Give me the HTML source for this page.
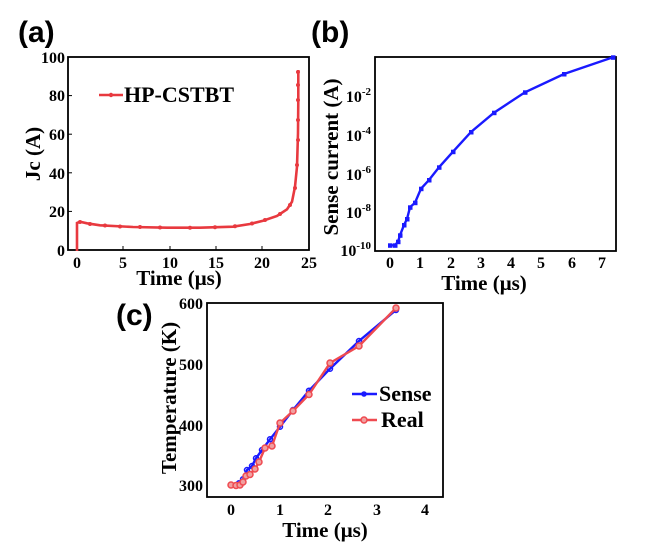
<!DOCTYPE html>
<html><head><meta charset="utf-8"><style>body{margin:0;background:#fff}svg{display:block}</style></head><body>
<svg width="668" height="544" viewBox="0 0 668 544" xmlns="http://www.w3.org/2000/svg" font-family="Liberation Serif, serif" font-weight="bold">
<!-- labels -->
<text x="18" y="42" font-family="Liberation Sans, sans-serif" font-size="30">(a)</text>
<text x="311" y="42" font-family="Liberation Sans, sans-serif" font-size="30">(b)</text>
<text x="116" y="325" font-family="Liberation Sans, sans-serif" font-size="30">(c)</text>

<!-- Panel a -->
<rect x="68" y="57" width="241" height="193" fill="none" stroke="#000" stroke-width="1.8"/>
<g font-size="16" text-anchor="end">
<text x="65" y="63">100</text><text x="65" y="101">80</text><text x="65" y="140">60</text><text x="65" y="179">40</text><text x="65" y="217">20</text><text x="65" y="256">0</text>
</g>
<g stroke="#000" stroke-width="1">
<line x1="68" y1="95.6" x2="72" y2="95.6"/><line x1="68" y1="134.2" x2="72" y2="134.2"/><line x1="68" y1="172.8" x2="72" y2="172.8"/><line x1="68" y1="211.4" x2="72" y2="211.4"/>
<line x1="123" y1="250" x2="123" y2="246"/><line x1="170" y1="250" x2="170" y2="246"/><line x1="216" y1="250" x2="216" y2="246"/><line x1="262" y1="250" x2="262" y2="246"/>
</g>
<g font-size="16" text-anchor="middle">
<text x="77" y="268">0</text><text x="123" y="268">5</text><text x="170" y="268">10</text><text x="216" y="268">15</text><text x="262" y="268">20</text><text x="309" y="268">25</text>
</g>
<text x="179" y="285" font-size="21" text-anchor="middle">Time (μs)</text>
<text transform="translate(40,154) rotate(-90)" font-size="21" text-anchor="middle">Jc (A)</text>
<polyline fill="none" stroke="#e8393f" stroke-width="2.6" points="77,251 77,223 80,221.7 87,223.3 100,225.3 133,227 167,227.7 200,227.7 233,226.7 250,224 263,220.7 277,216 287,209.3 292,201.7 295,186.7 297,166.7 298,133.3 298.3,100 298.3,70"/>
<g fill="#e8393f">
<circle cx="80" cy="222" r="2"/><circle cx="90" cy="224" r="2"/><circle cx="105" cy="225.5" r="2"/><circle cx="120" cy="226.5" r="2"/><circle cx="140" cy="227" r="2"/><circle cx="160" cy="227.5" r="2"/><circle cx="190" cy="227.7" r="2"/><circle cx="215" cy="227.3" r="2"/><circle cx="235" cy="226.3" r="2"/><circle cx="252" cy="223.5" r="2"/><circle cx="265" cy="220" r="2"/><circle cx="280" cy="214" r="2"/><circle cx="290" cy="205" r="2"/><circle cx="295" cy="188" r="2"/><circle cx="297" cy="165" r="2"/><circle cx="298" cy="140" r="2"/><circle cx="298" cy="120" r="2"/><circle cx="298" cy="100" r="2"/><circle cx="298" cy="85" r="2"/><circle cx="298" cy="72" r="2"/>
</g>
<line x1="99" y1="95" x2="123" y2="95" stroke="#e8393f" stroke-width="2.6"/><circle cx="111" cy="95" r="2.2" fill="#e8393f"/>
<text x="124" y="102" font-size="22">HP-CSTBT</text>

<!-- Panel b -->
<rect x="375" y="57" width="241" height="194" fill="none" stroke="#000" stroke-width="1.8"/>
<g font-size="16" text-anchor="end">
<text x="371" y="102">10<tspan font-size="11" dy="-7">-2</tspan></text>
<text x="371" y="141">10<tspan font-size="11" dy="-7">-4</tspan></text>
<text x="371" y="180">10<tspan font-size="11" dy="-7">-6</tspan></text>
<text x="371" y="218">10<tspan font-size="11" dy="-7">-8</tspan></text>
<text x="371" y="256">10<tspan font-size="11" dy="-7">-10</tspan></text>
</g>
<g font-size="16" text-anchor="middle">
<text x="390" y="268">0</text><text x="420" y="268">1</text><text x="451" y="268">2</text><text x="481" y="268">3</text><text x="511" y="268">4</text><text x="541" y="268">5</text><text x="572" y="268">6</text><text x="602" y="268">7</text>
</g>
<text x="484" y="290" font-size="21" text-anchor="middle">Time (μs)</text>
<text transform="translate(338,157) rotate(-90)" font-size="21" text-anchor="middle">Sense current (A)</text>
<polyline fill="none" stroke="#1a1aff" stroke-width="2.4" points="390,245.3 395,245.3 398,241.7 400,235.3 404,225 407,219 410,207.3 415,202.7 421,188.7 429,180 439,167.3 453,151.7 471,132 494,112.7 525,92.3 564,74 613,57.3"/>
<g fill="#1a1aff">
<rect x="388" y="243.3" width="4.5" height="4.5"/><rect x="393" y="243.3" width="4.5" height="4.5"/><rect x="396" y="239.7" width="4.5" height="4.5"/><rect x="398" y="233.3" width="4.5" height="4.5"/><rect x="402" y="223" width="4.5" height="4.5"/><rect x="405" y="217" width="4.5" height="4.5"/><rect x="408" y="205.3" width="4.5" height="4.5"/><rect x="413" y="200.7" width="4.5" height="4.5"/><rect x="419" y="186.7" width="4.5" height="4.5"/><rect x="427" y="178" width="4.5" height="4.5"/><rect x="437" y="165.3" width="4.5" height="4.5"/><rect x="451" y="149.7" width="4.5" height="4.5"/><rect x="469" y="130" width="4.5" height="4.5"/><rect x="492" y="110.7" width="4.5" height="4.5"/><rect x="523" y="90.3" width="4.5" height="4.5"/><rect x="562" y="72" width="4.5" height="4.5"/><rect x="611" y="55.3" width="4.5" height="4.5"/>
</g>

<!-- Panel c -->
<rect x="207" y="303" width="236" height="194" fill="none" stroke="#000" stroke-width="1.8"/>
<g font-size="16" text-anchor="end">
<text x="203" y="309">600</text><text x="203" y="370">500</text><text x="203" y="431">400</text><text x="203" y="491">300</text>
</g>
<g font-size="16" text-anchor="middle">
<text x="231" y="515">0</text><text x="280" y="515">1</text><text x="328" y="515">2</text><text x="377" y="515">3</text><text x="425" y="515">4</text>
</g>
<text x="325" y="537" font-size="21" text-anchor="middle">Time (μs)</text>
<text transform="translate(176,398) rotate(-90)" font-size="21" text-anchor="middle">Temperature (K)</text>
<polyline fill="none" stroke="#1a1aff" stroke-width="2.4" points="231,485 235,485 239,483.3 243,479.3 247,470 252,466 256,458.3 262,450 270,439.3 280,426.7 293,410 309,390.7 330,368.7 359,341 396,310"/>
<g fill="none" stroke="#1a1aff" stroke-width="1.5">
<circle cx="231" cy="485" r="2.5"/><circle cx="239" cy="483.3" r="2.5"/><circle cx="243" cy="479.3" r="2.5"/><circle cx="247" cy="470" r="2.5"/><circle cx="252" cy="466" r="2.5"/><circle cx="256" cy="458.3" r="2.5"/><circle cx="262" cy="450" r="2.5"/><circle cx="270" cy="439.3" r="2.5"/><circle cx="280" cy="426.7" r="2.5"/><circle cx="293" cy="410" r="2.5"/><circle cx="309" cy="390.7" r="2.5"/><circle cx="330" cy="368.7" r="2.5"/><circle cx="359" cy="341" r="2.5"/><circle cx="396" cy="310" r="2.5"/>
</g>
<polyline fill="none" stroke="#ef4a50" stroke-width="2.4" points="231,485 236,485.5 240,485 243,482 246,476 250,474.5 255,469 259,462 265,448 272,446 280,423 293,411 309,394.5 330,363 359,346 396,308"/>
<g fill="#f0a0a0" stroke="#ef4a50" stroke-width="1.5">
<circle cx="231" cy="485" r="3"/><circle cx="236" cy="485.5" r="3"/><circle cx="240" cy="485" r="3"/><circle cx="243" cy="482" r="3"/><circle cx="246" cy="476" r="3"/><circle cx="250" cy="474.5" r="3"/><circle cx="255" cy="469" r="3"/><circle cx="259" cy="462" r="3"/><circle cx="265" cy="448" r="3"/><circle cx="272" cy="446" r="3"/><circle cx="280" cy="423" r="3"/><circle cx="293" cy="411" r="3"/><circle cx="309" cy="394.5" r="3"/><circle cx="330" cy="363" r="3"/><circle cx="359" cy="346" r="3"/><circle cx="396" cy="308" r="3"/>
</g>
<line x1="352" y1="394" x2="377" y2="394" stroke="#1a1aff" stroke-width="2.4"/><circle cx="364" cy="394" r="2.8" fill="#1a1aff"/>
<text x="379" y="401" font-size="22">Sense</text>
<line x1="352" y1="420" x2="377" y2="420" stroke="#ef4a50" stroke-width="2.4"/><circle cx="364" cy="420" r="3" fill="#f0a0a0" stroke="#ef4a50" stroke-width="1.5"/>
<text x="381" y="427" font-size="22">Real</text>
</svg>
</body></html>
